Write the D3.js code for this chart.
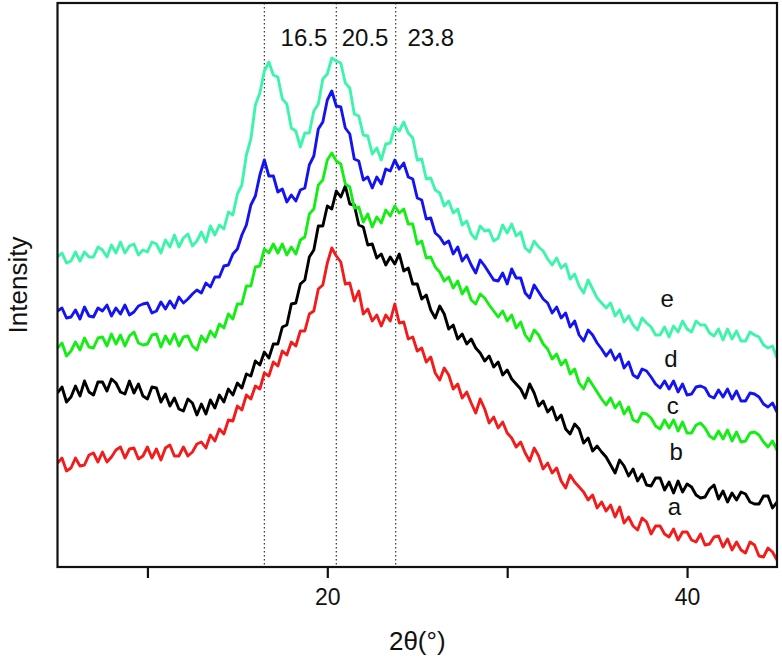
<!DOCTYPE html>
<html><head><meta charset="utf-8">
<script src="https://cdn.jsdelivr.net/npm/d3@7"></script>
<style>body{margin:0;background:#fff}svg{display:block}</style>
</head><body><svg id="c" width="782" height="659"></svg>
<script>
// 2θ grid: 5.00 .. 45.00 in steps of 0.25 (one row per degree)
const twoThetaStart = 5, twoThetaStep = 0.25;

const seriesA = [
104,109,96,99, 109,101,102,112, 114,105,115,105, 110,117,120,109, 118,119,108,111,
120,109,118,107, 119,122,111,111, 120,111,115,123, 125,119,132,126, 138,133,147,146,
161,157,172,168, 181,178,194,191, 205,201,216,212, 225,221,236,236, 253,256,278,282,
304,319,311,305, 283,284,266,276, 253,258,246,252, 241,252,246,263, 244,245,228,230,
216,219,205,210, 194,187,199,192, 178,183,169,175, 164,154,168,158, 144,150,139,145,
134,129,120,125, 114,106,119,111, 98,104,94,99, 86,79,92,85, 80,75,67,72,
59,65,56,62, 50,60,44,50, 41,37,49,45, 33,41,41,33, 30,38,27,35,
35,27,25,33, 22,23,30,31, 20,28,17,25, 17,14,25,22, 11,10,19,15,
7];
const seriesB = [
174,180,165,170, 181,171,186,175, 172,185,185,176, 188,184,175,173, 186,174,183,171,
168,180,179,165, 173,161,169,158, 156,168,164,152, 163,153,167,159, 172,165,178,172,
184,179,193,191, 206,202,215,209, 223,223,240,242, 263,264,283,287, 310,317,341,341,
361,358,376,370, 381,363,362,342, 340,322,323,309, 313,302,310,303, 313,296,299,283,
283,268,272,257, 249,261,253,238, 242,228,233,223, 228,219,214,206, 211,200,205,192,
197,188,183,178, 169,183,174,161, 166,155,160,147, 152,138,133,143, 138,124,129,116,
121,115,110,102, 94,107,101,91, 98,86,93,82, 81,89,89,77, 85,74,86,75,
83,80,72,69, 70,78,82,68, 76,65,74,67, 75,73,65,63, 63,71,71,59,
65];
const seriesC = [
219,224,211,216, 225,217,229,220, 219,229,230,221, 233,223,232,221, 231,235,224,222,
223,232,233,220, 231,223,233,221, 230,231,221,217, 231,225,236,230, 243,239,253,248,
263,263,281,281, 300,301,318,314, 323,314,323,312, 320,313,327,330, 353,358,382,387,
407,414,406,403, 383,380,359,360, 345,353,340,350, 344,357,351,361, 354,358,343,343,
323,326,309,310, 300,295,286,290, 279,286,273,280, 267,263,273,269, 262,256,250,256,
246,252,239,245, 232,226,237,232, 223,218,208,213, 202,207,193,198, 184,178,189,182,
175,168,162,169, 159,165,153,160, 147,145,154,153, 149,141,138,147, 139,147,136,145,
134,134,142,144, 139,131,128,136, 128,137,126,135, 125,126,134,135, 132,125,120,126,
117];
const seriesD = [
256,259,249,250, 257,248,260,251, 250,259,256,262, 251,259,253,262, 252,255,261,263,
264,254,256,265, 258,266,259,270, 264,268,273,277, 274,284,280,290, 290,301,302,313,
318,332,342,362, 371,392,407,391, 391,375,378,365, 372,366,377,379, 402,411,438,445,
467,476,461,460, 439,433,408,406, 387,390,379,390, 383,398,396,407, 398,404,390,388,
369,367,348,349, 334,330,323,326, 313,320,306,312, 302,294,307,301, 294,287,286,294,
283,298,289,289, 274,269,282,275, 268,264,254,260, 249,254,240,246, 232,226,237,232,
224,218,211,217, 207,213,199,205, 192,189,198,196, 190,183,179,186, 178,186,175,183,
172,173,180,181, 179,171,169,177, 170,178,168,176, 166,166,174,173, 170,163,160,164,
155];
const seriesE = [
310,314,304,306, 315,306,315,310, 310,320,317,310, 322,314,325,314, 321,323,312,317,
315,325,323,314, 327,320,332,320, 329,333,321,326, 335,325,341,332, 342,338,355,352,
373,382,412,428, 462,474,496,505, 492,490,468,463, 439,436,420,434, 434,456,463,488,
493,509,506,504, 484,479,453,451, 432,431,413,419, 407,423,424,440, 436,445,434,429,
407,408,388,389, 377,374,361,366, 354,358,342,346, 333,328,341,336, 337,326,329,342,
334,343,331,335, 319,315,326,320, 316,308,302,309, 299,303,288,293, 281,274,287,278,
269,264,259,264, 251,257,245,251, 242,237,249,244, 240,232,232,240, 230,241,235,246,
238,235,246,242, 242,234,231,238, 227,238,228,236, 226,226,235,232, 230,222,219,221,
209];

const seriesNames  = ["a", "b", "c", "d", "e"];
const seriesValues = [seriesA, seriesB, seriesC, seriesD, seriesE];
const seriesColors = ["#F21C1C", "#000000", "#14EE14", "#1414F2", "#3DF5AA"];

// curve-label anchor points (2θ, intensity)
const curveLabelX = [39.3, 39.4, 39.2, 39.1, 38.9];
const curveLabelY = [52, 107, 153, 200, 260];

const peakPositions = [16.5, 20.5, 23.8];
const peakLabels    = ["16.5", "20.5", "23.8"];
const peakLabelX    = [18.7, 22.1, 25.75];

const xTicks      = [10, 20, 30, 40];
const xTickLabels = ["", "20", "", "40"];

const FONT = "'Liberation Sans', Arial, Helvetica, sans-serif";
const svg = d3.select("#c");
const L = 57.5, R = 777, T = 3, B = 567;

const x = d3.scaleLinear().domain([5, 45]).range([L, R]);
const y = d3.scaleLinear().domain([0, 564]).range([B, T]);

svg.append("defs").append("clipPath").attr("id", "clip")
  .append("rect").attr("x", L).attr("y", T).attr("width", R - L).attr("height", B - T);

// dotted reference lines
svg.append("g").selectAll("line").data(peakPositions).join("line")
  .attr("x1", d => x(d)).attr("x2", d => x(d))
  .attr("y1", T).attr("y2", B)
  .attr("stroke", "#333").attr("stroke-width", 1.2)
  .attr("stroke-dasharray", "1.5,2.5");

// curves
const line = d3.line()
  .x((d, i) => x(twoThetaStart + i * twoThetaStep))
  .y(d => y(d));
svg.append("g").attr("clip-path", "url(#clip)")
  .selectAll("path").data(seriesValues).join("path")
  .attr("d", d => line(d))
  .attr("fill", "none")
  .attr("stroke", (d, i) => seriesColors[i])
  .attr("stroke-width", 2.9)
  .attr("stroke-linejoin", "round");

// frame
svg.append("rect").attr("x", L).attr("y", T).attr("width", R - L).attr("height", B - T)
  .attr("fill", "none").attr("stroke", "#111").attr("stroke-width", 2.2);

// x axis
const ax = svg.append("g").attr("transform", `translate(0,${B})`)
  .call(d3.axisBottom(x).tickValues(xTicks).tickSize(11).tickPadding(11)
    .tickFormat((d, i) => xTickLabels[i]));
ax.select(".domain").remove();
ax.selectAll(".tick line").attr("stroke", "#111").attr("stroke-width", 2.2);
ax.selectAll(".tick text").attr("font-family", FONT).attr("font-size", 23).attr("fill", "#111");

// peak labels
svg.append("g").selectAll("text").data(peakLabels).join("text")
  .attr("x", (d, i) => x(peakLabelX[i])).attr("y", 46)
  .attr("text-anchor", "middle")
  .attr("font-family", FONT).attr("font-size", 24).attr("fill", "#111")
  .text(d => d);

// curve labels
svg.append("g").selectAll("text").data(seriesNames).join("text")
  .attr("x", (d, i) => x(curveLabelX[i])).attr("y", (d, i) => y(curveLabelY[i]))
  .attr("text-anchor", "middle")
  .attr("font-family", FONT).attr("font-size", 24).attr("fill", "#111")
  .text(d => d);

// axis titles
svg.append("text").attr("x", (L + R) / 2).attr("y", 650)
  .attr("text-anchor", "middle").attr("font-family", FONT).attr("font-size", 26).attr("fill", "#111")
  .text("2θ(°)");
svg.append("text").attr("transform", `translate(27,${(T + B) / 2}) rotate(-90)`)
  .attr("text-anchor", "middle").attr("font-family", FONT).attr("font-size", 26).attr("fill", "#111")
  .text("Intensity");
</script>
</body></html>
